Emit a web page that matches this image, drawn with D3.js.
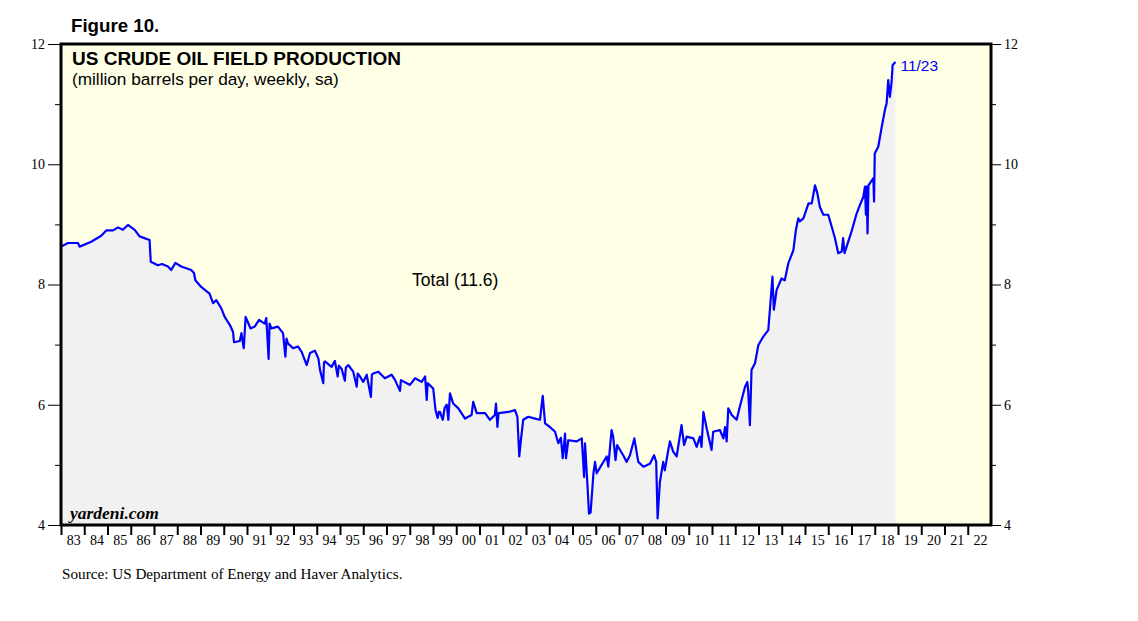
<!DOCTYPE html>
<html>
<head>
<meta charset="utf-8">
<script src="https://cdn.jsdelivr.net/npm/d3@7"></script>
<style>
  body { margin: 0; background: #fff; }
  .sans { font-family: "Liberation Sans", Arial, sans-serif; }
  .serif { font-family: "Liberation Serif", "Times New Roman", serif; }
</style>
</head>
<body>
<div id="app"></div>
<script>
const OUTER = { width: 1138, height: 621 }
const FRAME = { left: 61, right: 991, top: 44, bottom: 525 }

// weekly production (decimal year, mb/d)
const weeks = [
  1983.00, 1983.30, 1983.73, 1983.80, 1984.30, 1984.73, 1984.95, 1985.24, 1985.45, 1985.66,
  1985.88, 1986.17, 1986.38, 1986.81, 1986.86, 1987.17, 1987.35, 1987.60, 1987.74, 1987.92,
  1988.17, 1988.60, 1988.72, 1988.78, 1989.03, 1989.39, 1989.54, 1989.68, 1989.90, 1990.04,
  1990.26, 1990.40, 1990.44, 1990.69, 1990.76, 1990.86, 1990.94, 1991.03, 1991.15, 1991.33,
  1991.52, 1991.76, 1991.83, 1991.93, 1991.97, 1992.05, 1992.33, 1992.55, 1992.65, 1992.70,
  1992.76, 1992.98, 1993.19, 1993.35, 1993.57, 1993.71, 1993.92, 1994.07, 1994.14, 1994.28,
  1994.31, 1994.35, 1994.64, 1994.78, 1994.90, 1994.95, 1995.07, 1995.21, 1995.25, 1995.36,
  1995.57, 1995.72, 1995.76, 1995.86, 1996.00, 1996.15, 1996.33, 1996.37, 1996.43, 1996.65,
  1996.93, 1997.22, 1997.37, 1997.58, 1997.62, 1998.01, 1998.23, 1998.51, 1998.66, 1998.73,
  1998.77, 1999.01, 1999.11, 1999.20, 1999.25, 1999.30, 1999.42, 1999.50, 1999.59, 1999.66,
  1999.73, 1999.87, 2000.09, 2000.38, 2000.66, 2000.73, 2000.88, 2001.24, 2001.45, 2001.66,
  2001.71, 2001.77, 2001.82, 2002.24, 2002.53, 2002.63, 2002.71, 2002.78, 2002.88, 2003.10,
  2003.39, 2003.60, 2003.72, 2003.82, 2004.03, 2004.25, 2004.39, 2004.50, 2004.58, 2004.68,
  2004.72, 2004.82, 2005.18, 2005.40, 2005.50, 2005.54, 2005.64, 2005.71, 2005.78, 2005.90,
  2005.97, 2006.04, 2006.25, 2006.47, 2006.54, 2006.68, 2006.75, 2006.85, 2006.92, 2007.18,
  2007.33, 2007.47, 2007.66, 2007.83, 2008.05, 2008.33, 2008.51, 2008.60, 2008.66, 2008.76,
  2008.90, 2008.97, 2009.12, 2009.19, 2009.33, 2009.48, 2009.69, 2009.80, 2009.91, 2010.20,
  2010.34, 2010.48, 2010.55, 2010.63, 2010.77, 2010.98, 2011.05, 2011.34, 2011.49, 2011.56,
  2011.63, 2011.70, 2011.85, 2012.06, 2012.20, 2012.42, 2012.52, 2012.56, 2012.63, 2012.70,
  2012.85, 2012.99, 2013.20, 2013.42, 2013.49, 2013.60, 2013.66, 2013.78, 2013.99, 2014.13,
  2014.28, 2014.50, 2014.61, 2014.71, 2014.78, 2014.93, 2015.15, 2015.29, 2015.43, 2015.53,
  2015.64, 2015.79, 2016.00, 2016.15, 2016.29, 2016.43, 2016.58, 2016.64, 2016.70, 2016.79,
  2017.00, 2017.22, 2017.36, 2017.51, 2017.58, 2017.62, 2017.65, 2017.69, 2017.73, 2017.94,
  2017.97, 2018.00, 2018.15, 2018.30, 2018.45, 2018.51, 2018.58, 2018.65, 2018.72, 2018.77,
  2018.89
]
const production = [
  8.63, 8.69, 8.69, 8.63, 8.71, 8.81, 8.90, 8.90, 8.95, 8.91,
  8.99, 8.91, 8.80, 8.74, 8.38, 8.32, 8.34, 8.30, 8.24, 8.36,
  8.30, 8.24, 8.19, 8.07, 7.96, 7.85, 7.69, 7.74, 7.60, 7.46,
  7.33, 7.21, 7.04, 7.06, 7.19, 6.94, 7.46, 7.38, 7.27, 7.30,
  7.41, 7.35, 7.44, 6.76, 7.35, 7.27, 7.30, 7.19, 6.80, 7.10,
  7.02, 6.94, 6.97, 6.88, 6.66, 6.86, 6.90, 6.77, 6.58, 6.36,
  6.70, 6.72, 6.63, 6.73, 6.47, 6.65, 6.60, 6.40, 6.62, 6.66,
  6.55, 6.30, 6.52, 6.47, 6.38, 6.50, 6.13, 6.50, 6.52, 6.55,
  6.44, 6.50, 6.41, 6.23, 6.41, 6.33, 6.44, 6.38, 6.47, 6.08,
  6.36, 6.27, 5.91, 5.78, 5.88, 5.88, 5.75, 5.95, 6.00, 5.75,
  6.19, 6.02, 5.94, 5.77, 5.83, 6.05, 5.86, 5.86, 5.75, 5.83,
  6.02, 5.63, 5.86, 5.88, 5.91, 5.80, 5.14, 5.41, 5.75, 5.80,
  5.77, 5.75, 6.15, 5.69, 5.63, 5.55, 5.36, 5.45, 5.11, 5.52,
  5.11, 5.41, 5.39, 5.44, 4.80, 5.36, 4.69, 4.19, 4.21, 4.86,
  5.05, 4.86, 5.00, 5.14, 4.97, 5.58, 5.47, 5.08, 5.33, 5.16,
  5.05, 5.16, 5.44, 5.05, 4.97, 5.02, 5.16, 5.05, 4.11, 4.72,
  5.05, 4.91, 5.25, 5.39, 5.22, 5.14, 5.66, 5.33, 5.47, 5.44,
  5.30, 5.47, 5.30, 5.88, 5.61, 5.25, 5.55, 5.58, 5.44, 5.63,
  5.39, 5.94, 5.83, 5.75, 5.97, 6.30, 6.38, 6.22, 5.66, 6.58,
  6.69, 6.99, 7.13, 7.24, 7.58, 8.13, 7.58, 7.91, 8.10, 8.07,
  8.35, 8.57, 8.91, 9.10, 9.05, 9.10, 9.35, 9.35, 9.65, 9.52,
  9.29, 9.16, 9.16, 8.96, 8.77, 8.52, 8.55, 8.77, 8.52, 8.63,
  8.88, 9.18, 9.32, 9.46, 9.63, 9.16, 9.63, 8.85, 9.65, 9.77,
  9.38, 10.18, 10.29, 10.62, 10.93, 11.01, 11.40, 11.12, 11.35, 11.65,
  11.70
]
const yMajor = [4, 6, 8, 10, 12]
const yMinor = [5, 7, 9, 11]
const years = d3.range(1983, 2023)
const lastLabel = "11/23"
const seriesLabel = "Total (11.6)"

const data = weeks.map((w, i) => ({ t: w, value: production[i] }))

const xScale = d3.scaleLinear()
  .domain([1983, 2023])
  .range([FRAME.left, FRAME.right])

const yScale = d3.scaleLinear()
  .domain([4, 12])
  .range([FRAME.bottom, FRAME.top])

const svg = d3.select('#app')
  .append('svg')
  .attr('width', OUTER.width)
  .attr('height', OUTER.height)

// plot background
svg.append('rect')
  .attr('x', FRAME.left).attr('y', FRAME.top)
  .attr('width', FRAME.right - FRAME.left)
  .attr('height', FRAME.bottom - FRAME.top)
  .attr('fill', '#ffffe6')

const area = d3.area()
  .x(d => xScale(d.t))
  .y0(yScale(4))
  .y1(d => yScale(d.value))

const line = d3.line()
  .x(d => xScale(d.t))
  .y(d => yScale(d.value))

svg.append('path')
  .datum(data)
  .attr('d', area)
  .attr('fill', '#f1f1f1')

svg.append('path')
  .datum(data)
  .attr('d', line)
  .attr('fill', 'none')
  .attr('stroke', '#0000ff')
  .attr('stroke-width', 2.2)
  .attr('stroke-linejoin', 'round')

// y axes, left and right
const leftMajor = d3.axisLeft(yScale).tickValues(yMajor).tickSize(13).tickPadding(3).tickFormat(d3.format('d'))
const leftMinor = d3.axisLeft(yScale).tickValues(yMinor).tickSize(6).tickFormat('')
const rightMajor = d3.axisRight(yScale).tickValues(yMajor).tickSize(10).tickPadding(3).tickFormat(d3.format('d'))
const rightMinor = d3.axisRight(yScale).tickValues(yMinor).tickSize(5).tickFormat('')

const styleAxis = g => {
  g.select('.domain').remove()
  g.selectAll('line').attr('stroke', '#000').attr('stroke-width', 1)
  g.selectAll('text')
    .attr('class', 'serif')
    .attr('font-size', 14)
    .attr('fill', '#000')
}

svg.append('g').attr('transform', `translate(${FRAME.left},0)`).call(leftMajor).call(styleAxis)
svg.append('g').attr('transform', `translate(${FRAME.left},0)`).call(leftMinor).call(styleAxis)
svg.append('g').attr('transform', `translate(${FRAME.right},0)`).call(rightMajor).call(styleAxis)
svg.append('g').attr('transform', `translate(${FRAME.right},0)`).call(rightMinor).call(styleAxis)

// x axis: tick at each year start, label sits between ticks
const xAxis = d3.axisBottom(xScale).tickValues(years).tickSize(10).tickFormat('')
svg.append('g')
  .attr('transform', `translate(0,${FRAME.bottom})`)
  .call(xAxis)
  .call(styleAxis)
  .selectAll('line').attr('stroke-width', 2)

svg.append('g')
  .selectAll('text')
  .data(years)
  .join('text')
  .attr('class', 'serif')
  .attr('x', d => xScale(d + 0.5) + 1)
  .attr('y', FRAME.bottom + 20)
  .attr('text-anchor', 'middle')
  .attr('font-size', 14)
  .text(d => d3.format('02d')(d % 100))

// frame
svg.append('rect')
  .attr('x', FRAME.left).attr('y', FRAME.top)
  .attr('width', FRAME.right - FRAME.left)
  .attr('height', FRAME.bottom - FRAME.top)
  .attr('fill', 'none')
  .attr('stroke', '#000')
  .attr('stroke-width', 3)

// texts
svg.append('text').attr('class', 'sans')
  .attr('x', 71).attr('y', 32)
  .attr('font-size', 18.7).attr('font-weight', 'bold')
  .text('Figure 10.')

svg.append('text').attr('class', 'sans')
  .attr('x', 72).attr('y', 65)
  .attr('font-size', 19).attr('font-weight', 'bold')
  .text('US CRUDE OIL FIELD PRODUCTION')

svg.append('text').attr('class', 'sans')
  .attr('x', 72).attr('y', 85)
  .attr('font-size', 17.2)
  .text('(million barrels per day, weekly, sa)')

svg.append('text').attr('class', 'sans')
  .attr('x', xScale(1998.1)).attr('y', yScale(7.98))
  .attr('font-size', 17.5)
  .text(seriesLabel)

const last = data[data.length - 1]
svg.append('text').attr('class', 'sans')
  .attr('x', xScale(last.t) + 5).attr('y', yScale(last.value) + 9)
  .attr('font-size', 15.5)
  .attr('fill', '#0000ff')
  .text(lastLabel)

svg.append('text').attr('class', 'serif')
  .attr('x', 70).attr('y', 519)
  .attr('font-size', 17.5).attr('font-weight', 'bold').attr('font-style', 'italic')
  .text('yardeni.com')

svg.append('text').attr('class', 'serif')
  .attr('x', 62).attr('y', 579)
  .attr('font-size', 15.2)
  .text('Source: US Department of Energy and Haver Analytics.')
</script>
</body>
</html>
